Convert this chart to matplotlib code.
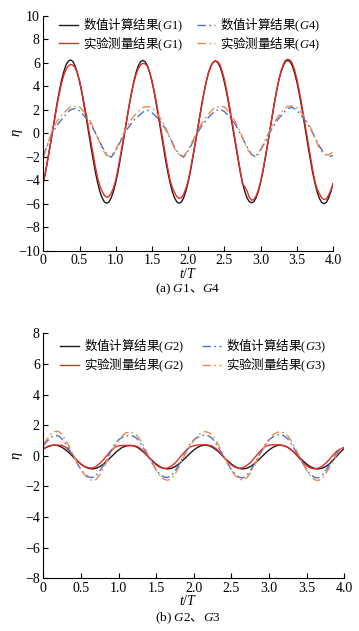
import numpy as np
import matplotlib
matplotlib.use("Agg")
import matplotlib.pyplot as plt

# fonts: serif for numbers, CJK for chinese labels
plt.rcParams['font.family'] = ['Liberation Serif', 'Noto Sans CJK SC']
plt.rcParams['mathtext.fontset'] = 'custom'
plt.rcParams['mathtext.rm'] = 'Liberation Serif'
plt.rcParams['mathtext.it'] = 'Liberation Serif:italic'
plt.rcParams['mathtext.bf'] = 'Liberation Serif:bold'
plt.rcParams['axes.unicode_minus'] = True

# ---- data (a): G1 every T/32, G4 every T/16 ----
t_g1 = np.linspace(0, 4, 129)
t_g4 = np.linspace(0, 4, 65)
g1_num = [-4.2, -3.3, -2.2, -1.1, 0.1, 1.3, 2.45, 3.5, 4.45, 5.2, 5.8, 6.12, 6.24, 6.12, 5.75, 5.18,
          4.4, 3.48, 2.4, 1.28, 0.1, -1.1, -2.2, -3.3, -4.2, -4.97, -5.5, -5.85, -5.96, -5.86, -5.5, -4.95,
          -4.2, -3.3, -2.2, -1.1, 0.1, 1.3, 2.45, 3.48, 4.4, 5.17, 5.75, 6.08, 6.2, 6.08, 5.75, 5.17,
          4.4, 3.48, 2.4, 1.28, 0.1, -1.1, -2.25, -3.3, -4.2, -4.97, -5.5, -5.85, -5.96, -5.86, -5.5, -4.95,
          -4.15, -3.25, -2.15, -1.05, 0.15, 1.3, 2.45, 3.48, 4.4, 5.15, 5.7, 6.03, 6.15, 6.03, 5.7, 5.12,
          4.35, 3.45, 2.4, 1.25, 0.1, -1.1, -2.2, -3.3, -4.2, -4.95, -5.5, -5.82, -5.92, -5.84, -5.5, -4.95,
          -4.2, -3.3, -2.2, -1.1, 0.1, 1.3, 2.5, 3.52, 4.45, 5.2, 5.75, 6.1, 6.2, 6.1, 5.75, 5.15,
          4.4, 3.45, 2.4, 1.25, 0.05, -1.15, -2.25, -3.35, -4.25, -5.0, -5.55, -5.9, -6.0, -5.9, -5.55, -5.0,
          -4.3]
g1_exp = [-4.25, -3.3, -2.2, -1.1, 0.0, 1.15, 2.3, 3.3, 4.2, 4.9, 5.4, 5.72, 5.85, 5.8, 5.6, 5.15,
          4.5, 3.6, 2.6, 1.5, 0.4, -0.7, -1.8, -2.85, -3.8, -4.5, -4.95, -5.3, -5.45, -5.4, -5.1, -4.65,
          -4.0, -3.05, -2.0, -0.9, 0.2, 1.3, 2.4, 3.4, 4.3, 5.0, 5.5, 5.82, 5.95, 5.9, 5.7, 5.2,
          4.5, 3.6, 2.6, 1.5, 0.35, -0.8, -1.9, -3.0, -4.0, -4.6, -5.05, -5.4, -5.55, -5.5, -5.2, -4.7,
          -4.05, -3.1, -2.05, -0.95, 0.15, 1.3, 2.4, 3.45, 4.4, 5.15, 5.7, 6.02, 6.15, 6.1, 5.85, 5.3,
          4.6, 3.65, 2.6, 1.5, 0.3, -0.85, -2.0, -3.2, -4.3, -4.55, -4.9, -5.45, -5.7, -5.65, -5.35, -4.85,
          -4.15, -3.2, -2.15, -1.0, 0.1, 1.3, 2.5, 3.55, 4.5, 5.25, 5.85, 6.2, 6.3, 6.22, 5.95, 5.4,
          4.65, 3.7, 2.65, 1.5, 0.3, -0.85, -2.0, -3.1, -4.1, -4.75, -5.15, -5.5, -5.65, -5.6, -5.3, -4.85,
          -4.35]
g4_num = [-1.93, -0.9, 0.0, 0.65, 1.15, 1.6, 2.0, 2.1, 1.9, 1.5, 1.05, 0.4, -0.35, -1.15, -1.75, -2.05,
          -1.5, -0.75, 0.05, 0.6, 1.1, 1.45, 1.8, 1.95, 1.75, 1.4, 0.95, 0.35, -0.4, -1.2, -1.8, -2.05,
          -1.5, -0.8, 0.0, 0.6, 1.15, 1.55, 1.9, 2.05, 1.85, 1.45, 1.0, 0.35, -0.4, -1.15, -1.8, -2.05,
          -1.45, -0.75, 0.05, 0.7, 1.25, 1.7, 2.1, 2.2, 1.95, 1.5, 1.0, 0.4, -0.35, -1.1, -1.7, -2.0,
          -1.9]
g4_exp = [-2.1, -0.9, 0.3, 1.0, 1.5, 1.9, 2.25, 2.27, 2.25, 1.8, 1.3, 0.55, -0.35, -1.35, -1.9, -1.9,
          -1.4, -0.6, 0.2, 0.9, 1.45, 1.85, 2.2, 2.27, 2.2, 1.75, 1.2, 0.5, -0.4, -1.3, -1.85, -1.95,
          -1.45, -0.65, 0.15, 0.85, 1.4, 1.85, 2.25, 2.27, 2.25, 1.8, 1.25, 0.55, -0.35, -1.3, -1.85, -1.9,
          -1.4, -0.6, 0.2, 0.9, 1.5, 1.95, 2.3, 2.3, 2.2, 1.75, 1.2, 0.5, -0.4, -1.3, -1.8, -1.85,
          -1.6]

# ---- data (b): G2, G3, sampled every T/20 ----
t_b = np.linspace(0, 4, 81)
g2_num = [0.45, 0.57, 0.66, 0.70, 0.66, 0.55, 0.38, 0.16, -0.08, -0.32, -0.54, -0.71, -0.82, -0.86, -0.82, -0.71, -0.54, -0.32, -0.08, 0.16,
          0.38, 0.55, 0.64, 0.67, 0.65, 0.55, 0.38, 0.16, -0.08, -0.32, -0.54, -0.71, -0.82, -0.86, -0.82, -0.71, -0.54, -0.32, -0.08, 0.16,
          0.38, 0.55, 0.66, 0.70, 0.66, 0.55, 0.38, 0.16, -0.08, -0.32, -0.54, -0.71, -0.82, -0.86, -0.82, -0.71, -0.54, -0.32, -0.08, 0.16,
          0.38, 0.55, 0.66, 0.70, 0.66, 0.55, 0.38, 0.16, -0.08, -0.32, -0.54, -0.71, -0.82, -0.86, -0.82, -0.71, -0.54, -0.30, -0.02, 0.25,
          0.5]
g2_exp = [0.45, 0.6, 0.68, 0.7, 0.7, 0.68, 0.55, 0.3, 0.0, -0.3, -0.55, -0.7, -0.78, -0.8, -0.7, -0.5, -0.25, 0.05, 0.35, 0.55,
          0.65, 0.68, 0.68, 0.68, 0.66, 0.6, 0.45, 0.2, -0.1, -0.35, -0.6, -0.75, -0.82, -0.8, -0.68, -0.48, -0.2, 0.1, 0.38, 0.57,
          0.66, 0.7, 0.72, 0.72, 0.7, 0.62, 0.45, 0.2, -0.1, -0.38, -0.6, -0.75, -0.82, -0.78, -0.65, -0.45, -0.18, 0.12, 0.4, 0.6,
          0.7, 0.72, 0.72, 0.7, 0.65, 0.55, 0.38, 0.12, -0.15, -0.42, -0.65, -0.8, -0.85, -0.82, -0.7, -0.5, -0.25, 0.05, 0.3, 0.45,
          0.55]
g3_num = [0.65, 0.95, 1.2, 1.33, 1.3, 1.1, 0.75, 0.35, -0.1, -0.5, -0.9, -1.2, -1.38, -1.42, -1.3, -1.0, -0.6, -0.15, 0.3, 0.75,
          1.05, 1.2, 1.3, 1.33, 1.28, 1.1, 0.75, 0.35, -0.1, -0.5, -0.9, -1.2, -1.38, -1.42, -1.3, -1.0, -0.6, -0.15, 0.3, 0.75,
          1.05, 1.2, 1.32, 1.35, 1.3, 1.1, 0.75, 0.35, -0.1, -0.5, -0.9, -1.2, -1.4, -1.45, -1.3, -1.0, -0.6, -0.15, 0.3, 0.75,
          1.05, 1.22, 1.35, 1.4, 1.3, 1.1, 0.75, 0.35, -0.1, -0.5, -0.9, -1.22, -1.4, -1.45, -1.3, -1.0, -0.6, -0.2, 0.2, 0.45,
          0.55]
g3_exp = [0.75, 1.1, 1.4, 1.58, 1.6, 1.4, 1.0, 0.55, 0.05, -0.45, -0.9, -1.25, -1.5, -1.62, -1.55, -1.25, -0.8, -0.3, 0.2, 0.6,
          1.0, 1.3, 1.5, 1.55, 1.5, 1.3, 0.95, 0.5, 0.0, -0.5, -0.95, -1.3, -1.52, -1.6, -1.5, -1.2, -0.75, -0.25, 0.25, 0.65,
          1.0, 1.3, 1.5, 1.58, 1.52, 1.3, 0.95, 0.5, 0.0, -0.5, -0.95, -1.3, -1.52, -1.58, -1.45, -1.15, -0.7, -0.2, 0.25, 0.65,
          1.05, 1.35, 1.52, 1.58, 1.5, 1.3, 0.95, 0.5, 0.0, -0.5, -0.95, -1.3, -1.55, -1.62, -1.5, -1.2, -0.8, -0.35, 0.1, 0.4,
          0.6]

x_ticks = [0, 0.5, 1.0, 1.5, 2.0, 2.5, 3.0, 3.5, 4.0]
x_ticklabels = ['0', '0.5', '1.0', '1.5', '2.0', '2.5', '3.0', '3.5', '4.0']
labels_a = ['数值计算结果$(G1)$', '实验测量结果$(G1)$', '数值计算结果$(G4)$', '实验测量结果$(G4)$']
labels_b = ['数值计算结果$(G2)$', '实验测量结果$(G2)$', '数值计算结果$(G3)$', '实验测量结果$(G3)$']

c_black = '#1a1a1a'
c_red = '#ec2a24'
c_blue = '#4a72c8'
c_orange = '#f0884a'
dashdot = (0, (6, 2.5, 1.2, 2.5))
cjk = 'Noto Sans CJK SC'

fig = plt.figure(figsize=(3.59, 6.31), dpi=100)
ax1 = fig.add_axes([0.1206, 0.6027, 0.807, 0.3724])
ax2 = fig.add_axes([0.1206, 0.0835, 0.8384, 0.3883])


def style_axes(ax, ylim, yticks):
    ax.set_xlim(0, 4)
    ax.set_ylim(*ylim)
    ax.set_xticks(x_ticks)
    ax.set_xticklabels(x_ticklabels)
    ax.set_yticks(yticks)
    for s in ['top', 'right']:
        ax.spines[s].set_visible(False)
    for s in ['left', 'bottom']:
        ax.spines[s].set_linewidth(0.8)
    ax.tick_params(direction='in', length=3.5, width=0.8, labelsize=10, pad=2.5)


# (a)
ax1.plot(t_g1, g1_num, color=c_black, lw=1.0, label=labels_a[0])
ax1.plot(t_g1, g1_exp, color=c_red, lw=1.0, label=labels_a[1])
ax1.plot(t_g4, g4_num, color=c_blue, lw=1.0, ls=dashdot, label=labels_a[2])
ax1.plot(t_g4, g4_exp, color=c_orange, lw=1.0, ls=dashdot, label=labels_a[3])
style_axes(ax1, (-10, 10), np.arange(-10, 11, 2))
ax1.legend(loc='upper left', bbox_to_anchor=(0.055, 1.0), ncol=2, frameon=False,
           prop={'family': cjk, 'size': 9}, handlelength=1.5, handletextpad=0.4,
           columnspacing=1.1, labelspacing=0.0, borderpad=0, borderaxespad=0)

# (b)
ax2.plot(t_b, g2_num, color=c_black, lw=1.0, label=labels_b[0])
ax2.plot(t_b, g2_exp, color=c_red, lw=1.0, label=labels_b[1])
ax2.plot(t_b, g3_num, color=c_blue, lw=1.0, ls=dashdot, label=labels_b[2])
ax2.plot(t_b, g3_exp, color=c_orange, lw=1.0, ls=dashdot, label=labels_b[3])
style_axes(ax2, (-8, 8), np.arange(-8, 9, 2))
ax2.legend(loc='upper left', bbox_to_anchor=(0.055, 0.985), ncol=2, frameon=False,
           prop={'family': cjk, 'size': 9}, handlelength=1.5, handletextpad=0.4,
           columnspacing=1.5, labelspacing=0.0, borderpad=0, borderaxespad=0)

# axis labels and captions
for y_lab, y_eta, y_cap, cap in [(0.5662, 0.789, 0.5415, r'$\mathrm{(a)}\ G\mathrm{1}$、$G\mathrm{4}$'),
                                  (0.0480, 0.2776, 0.0200, r'$\mathrm{(b)}\ G\mathrm{2}$、$G\mathrm{3}$')]:
    fig.text(0.524, y_lab, '$t/T$', ha='center', va='center', fontsize=10)
    fig.text(0.05, y_eta, r'$\eta$', ha='center', va='center', rotation=90, fontsize=10.5)
    fig.text(0.524, y_cap, cap, ha='center', va='center', fontsize=9.5, family=cjk)

fig.savefig('out.png', dpi=100)
